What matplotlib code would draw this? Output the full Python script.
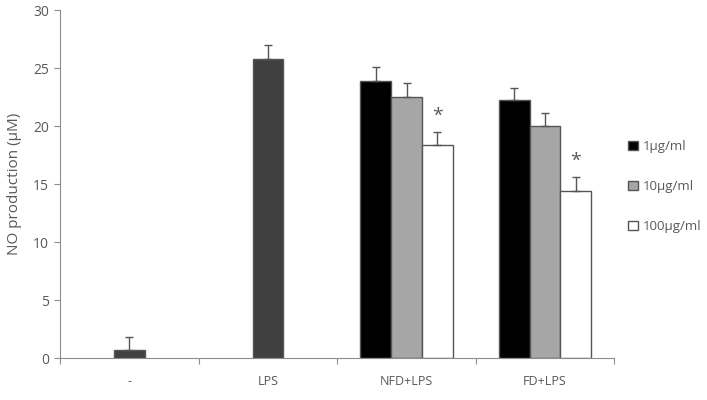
import numpy as np
import matplotlib.pyplot as plt

plt.rcParams['font.family'] = ['Open Sans', 'DejaVu Sans']

categories = ["-", "LPS", "NFD+LPS", "FD+LPS"]
single_vals = [0.7, 25.8]
single_err = [1.1, 1.2]
doses = ["1μg/ml", "10μg/ml", "100μg/ml"]
dose_vals = {"NFD+LPS": [23.9, 22.5, 18.4], "FD+LPS": [22.2, 20.0, 14.4]}
dose_err = {"NFD+LPS": [1.2, 1.2, 1.1], "FD+LPS": [1.1, 1.1, 1.2]}
stars = {"NFD+LPS": 2, "FD+LPS": 2}

dose_colors = ["#000000", "#a6a6a6", "#ffffff"]
edge = "#555555"
axis_col = "#8c8c8c"
text_col = "#595959"
w = 0.222

fig = plt.figure(figsize=(7.07, 4.0), dpi=100)
ax = fig.add_axes([0.085, 0.105, 0.784, 0.87])

centers = np.arange(len(categories)) + 0.5
ax.bar(centers[:2], single_vals, w, color="#404040", edgecolor=edge, linewidth=1,
       yerr=[[0, 0], single_err], error_kw=dict(ecolor=edge, capsize=3, elinewidth=1, capthick=1), zorder=2)

handles = []
for gi, cat in enumerate(categories[2:]):
    c = centers[gi + 2]
    for j in range(3):
        x = c + (j - 1) * w
        b = ax.bar(x, dose_vals[cat][j], w, color=dose_colors[j], edgecolor=edge, linewidth=1,
                   yerr=[[0], [dose_err[cat][j]]],
                   error_kw=dict(ecolor=edge, capsize=3, elinewidth=1, capthick=1), zorder=2)
        if gi == 0:
            handles.append(b)
    k = stars[cat]
    ax.text(c + (k - 1) * w, dose_vals[cat][k] + dose_err[cat][k] + 0.6, "*",
            ha="center", va="bottom", fontsize=14, color=text_col)

ax.set_xlim(0, 4)
ax.set_ylim(0, 30)
ax.set_yticks(np.arange(0, 31, 5))
ax.set_xticks(np.arange(0, 5))
ax.set_xticklabels([])
ax.set_xticks(centers, minor=True)
ax.set_xticklabels(categories, minor=True)
ax.tick_params(axis="x", which="minor", length=0, pad=12, labelsize=9, labelcolor=text_col)
ax.tick_params(axis="x", which="major", length=4, color=axis_col, direction="out")
ax.tick_params(axis="y", length=4, color=axis_col, labelsize=10, labelcolor=text_col, pad=4)
for s in ["top", "right"]:
    ax.spines[s].set_visible(False)
for s in ["left", "bottom"]:
    ax.spines[s].set_color(axis_col)
ax.set_ylabel("NO production (μM)", fontsize=11, color=text_col, labelpad=8)

leg = fig.legend(handles, doses, loc="upper left", bbox_to_anchor=(0.872, 0.68),
                 frameon=False, fontsize=9.5, handlelength=0.7, handleheight=0.7,
                 handletextpad=0.4, labelspacing=2.05, labelcolor=text_col)

fig.savefig("out.png", dpi=100)
